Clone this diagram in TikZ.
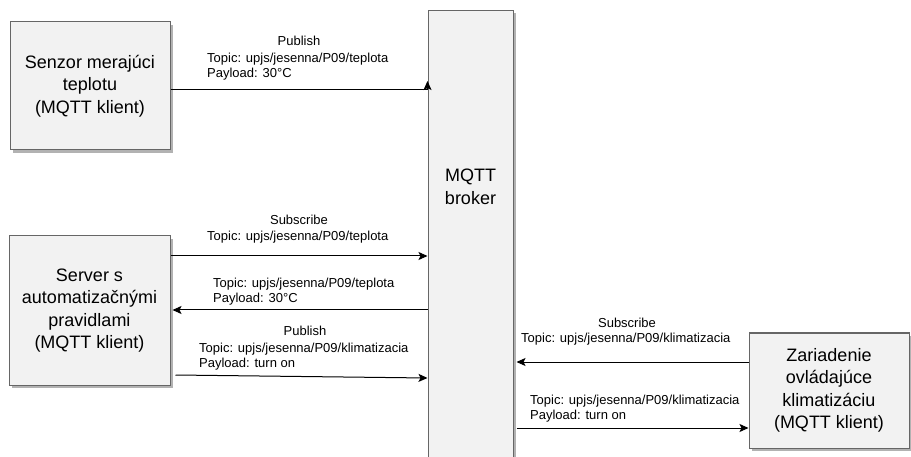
\documentclass[tikz,border=0pt]{standalone}
\usepackage{fontspec}
\setmainfont{Liberation Sans}
\usetikzlibrary{arrows.meta,shadows}

\begin{document}
\begin{tikzpicture}[x = 1pt, y = -1pt, > = {Stealth[length = 9pt, width = 8pt, inset = 2pt]},
	client/.style = {draw = black!60, fill = black!5, line width = 1pt, align = center,
		font = \fontsize{18}{22.5}\selectfont, inner sep = 0pt,
		drop shadow = {shadow xshift = 3pt, shadow yshift = -3pt, opacity = 1, fill = black!30}},
	msg/.style = {font = \fontsize{13}{15}\selectfont, inner sep = 0pt, align = left},
	flow/.style = {->, line width = 1pt}]

	\useasboundingbox (0, 0) rectangle (911, 457);

	% Clients and broker

	\node [client, minimum width = 160pt, minimum height = 128pt] (sensor) at (90, 86)
		{Senzor merajúci\\teplotu\\(MQTT klient)};
	\node [client, minimum width = 161pt, minimum height = 149pt] (server) at (89.5, 310.5)
		{Server s\\automatizačnými\\pravidlami\\(MQTT klient)};
	\node [client, minimum width = 160pt, minimum height = 115pt] (actuator) at (829, 390.5)
		{Zariadenie\\ovládajúce\\klimatizáciu\\(MQTT klient)};
	\node [client, minimum width = 85pt, minimum height = 480pt, anchor = north] (broker) at (470.5, 10) {};
	\node [font = \fontsize{18}{23}\selectfont, align = center, inner sep = 0pt, anchor = base] (brokertext) at (470.5, 205)
		{MQTT\\broker};

	% Sensor publishes the temperature

	\draw [flow] (sensor.east |- 0, 90) -- (broker.west |- 0, 90) -- (broker.west |- 0, 81);
	\node [msg, anchor = base] (pubtemp) at (299, 46) {Publish};
	\node [msg, anchor = north west] (pubtemptext) at (207, 52.5) {Topic: upjs/jesenna/P09/teplota\\Payload: 30°C};

	% Server subscribes, receives, publishes

	\draw [flow] (server.east |- 0, 256) -- (broker.west |- 0, 256);
	\node [msg, anchor = base] (subtemp) at (299, 225) {Subscribe};
	\node [msg, anchor = base west] (subtemptext) at (207, 241) {Topic: upjs/jesenna/P09/teplota};

	\draw [flow] (broker.west |- 0, 310) -- ([xshift = 2pt] server.east |- 0, 310);
	\node [msg, anchor = north west] (gettemp) at (213, 277.5) {Topic: upjs/jesenna/P09/teplota\\Payload: 30°C};

	\draw [flow] ([xshift = 5pt] server.east |- 0, 375) -- (broker.west |- 0, 378);
	\node [msg, anchor = base] (pubclima) at (305, 335) {Publish};
	\node [msg, anchor = north west] (pubclimatext) at (199, 342.5) {Topic: upjs/jesenna/P09/klimatizacia\\Payload: turn on};

	% Air conditioning subscribes and gets the command

	\draw [flow] (actuator.west |- 0, 362) -- ([xshift = 3pt] broker.east |- 0, 362);
	\node [msg, anchor = base] (subclima) at (627, 327) {Subscribe};
	\node [msg, anchor = base west] (subclimatext) at (521, 342) {Topic: upjs/jesenna/P09/klimatizacia};

	\draw [flow] ([xshift = 3pt] broker.east |- 0, 428) -- (actuator.west |- 0, 428);
	\node [msg, anchor = north west] (getclima) at (530, 394.5) {Topic: upjs/jesenna/P09/klimatizacia\\Payload: turn on};

\end{tikzpicture}
\end{document}
